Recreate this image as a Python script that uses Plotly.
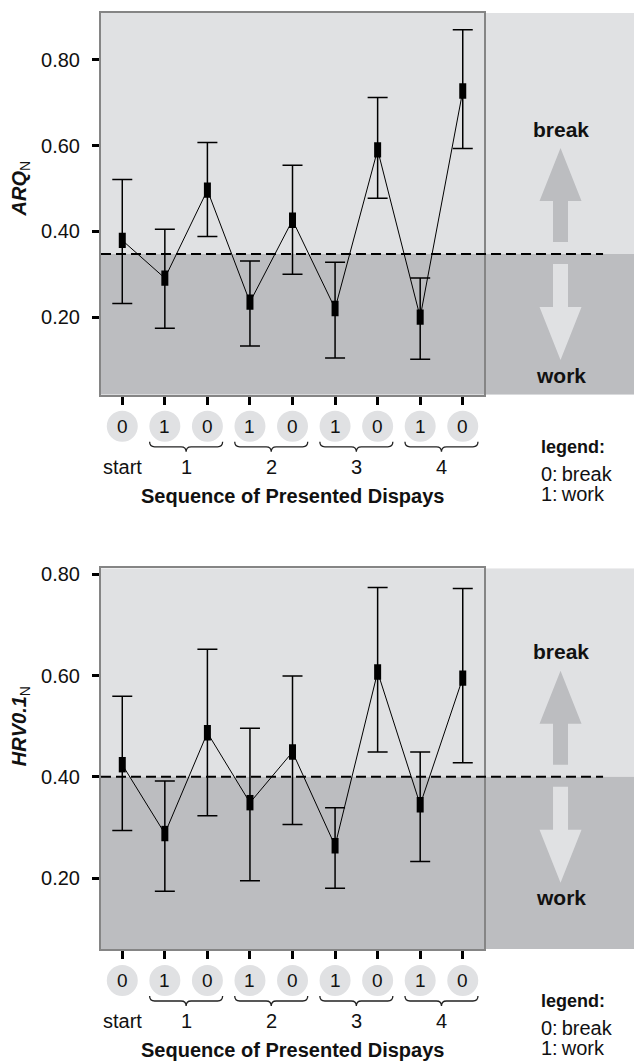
import plotly.graph_objects as go

# ---------------- data ----------------
categories = [0, 1, 2, 3, 4, 5, 6, 7, 8]
seq_codes = ["0", "1", "0", "1", "0", "1", "0", "1", "0"]
group_labels = ["start", "1", "2", "3", "4"]
group_pos = [0, 1.5, 3.5, 5.5, 7.5]
brace_pos = [1.5, 3.5, 5.5, 7.5]
y_ticks = [0.2, 0.4, 0.6, 0.8]
y_ticktext = ["0.20", "0.40", "0.60", "0.80"]

arq_mean = [0.379, 0.291, 0.496, 0.235, 0.426, 0.220, 0.590, 0.200, 0.727]
arq_upper = [0.521, 0.405, 0.607, 0.331, 0.554, 0.328, 0.712, 0.291, 0.870]
arq_lower = [0.232, 0.174, 0.388, 0.133, 0.300, 0.105, 0.477, 0.102, 0.593]
arq_threshold = 0.347
arq_range = [0.019, 0.909]

hrv_mean = [0.424, 0.288, 0.487, 0.349, 0.449, 0.264, 0.607, 0.345, 0.595]
hrv_upper = [0.559, 0.392, 0.652, 0.496, 0.599, 0.339, 0.774, 0.449, 0.772]
hrv_lower = [0.294, 0.174, 0.323, 0.195, 0.306, 0.180, 0.449, 0.233, 0.428]
hrv_threshold = 0.40
hrv_range = [0.060, 0.812]

# ---------------- style ----------------
FONT = "Liberation Sans, Arial, Helvetica, sans-serif"
LIGHT = "#e0e1e3"
DARK = "#bcbdc0"
BORDER = "#858585"
X_RANGE = [-0.5, 8.5]
X_DOMAIN = [0, 0.708]
ARROW_X = 0.8494
LEGEND_X = 0.8096

fig = go.Figure()

panels = [
    dict(mean=arq_mean, up=arq_upper, lo=arq_lower, thr=arq_threshold, rng=arq_range,
         xa="x", ya="y", xkey="xaxis", ykey="yaxis", domain=[0.5921, 1.0],
         title="<b><i>ARQ</i></b><sub>N</sub>"),
    dict(mean=hrv_mean, up=hrv_upper, lo=hrv_lower, thr=hrv_threshold, rng=hrv_range,
         xa="x2", ya="y2", xkey="xaxis2", ykey="yaxis2", domain=[0.0, 0.4068],
         title="<b><i>HRV0.1</i></b><sub>N</sub>"),
]

shapes = []
annotations = []


def note(**kw):
    kw.setdefault("showarrow", False)
    kw.setdefault("xanchor", "center")
    kw.setdefault("yanchor", "middle")
    annotations.append(kw)


for p in panels:
    plus = [u - m for u, m in zip(p["up"], p["mean"])]
    minus = [m - l for m, l in zip(p["mean"], p["lo"])]
    fig.add_trace(go.Scatter(
        x=categories, y=p["mean"], xaxis=p["xa"], yaxis=p["ya"],
        mode="lines+markers",
        line=dict(color="black", width=1),
        marker=dict(symbol="line-ns", size=11, color="black",
                    line=dict(color="black", width=7)),
        error_y=dict(type="data", symmetric=False, array=plus, arrayminus=minus,
                     color="black", thickness=1.5, width=10),
        showlegend=False, hoverinfo="skip",
    ))

    # axes
    fig.layout[p["xkey"]] = dict(
        domain=X_DOMAIN, range=X_RANGE, anchor=p["ya"],
        tickvals=categories, showticklabels=False,
        ticks="outside", ticklen=8, tickwidth=3, tickcolor="black",
        showline=True, linecolor=BORDER, linewidth=2, mirror=True,
        showgrid=False, zeroline=False,
    )
    fig.layout[p["ykey"]] = dict(
        domain=p["domain"], range=p["rng"], anchor=p["xa"],
        tickvals=y_ticks, ticktext=y_ticktext,
        ticks="outside", ticklen=7, tickwidth=3, tickcolor="black",
        ticklabelstandoff=8,
        tickfont=dict(family=FONT, size=20, color="#111"),
        showline=True, linecolor=BORDER, linewidth=2, mirror=True,
        showgrid=False, zeroline=False,
    )

    ydom = p["ya"] + " domain"
    # shaded regions
    shapes.append(dict(type="rect", xref="paper", yref=p["ya"], x0=0, x1=1,
                       y0=p["thr"], y1=p["rng"][1], fillcolor=LIGHT,
                       line=dict(width=0), layer="below"))
    shapes.append(dict(type="rect", xref="paper", yref=p["ya"], x0=0, x1=1,
                       y0=p["rng"][0], y1=p["thr"], fillcolor=DARK,
                       line=dict(width=0), layer="below"))
    # threshold dashed line
    shapes.append(dict(type="line", xref="paper", yref=p["ya"], x0=0, x1=0.928,
                       y0=p["thr"], y1=p["thr"],
                       line=dict(color="black", width=2, dash="10px,5px"),
                       layer="above"))
    # arrows
    shapes.append(dict(type="path", xref="paper", xsizemode="pixel", xanchor=ARROW_X,
                       yref=p["ya"], ysizemode="pixel", yanchor=p["thr"],
                       path="M -7.5,12 L 7.5,12 L 7.5,53 L 21,53 L 0,106 L -21,53 L -7.5,53 Z",
                       fillcolor=DARK, line=dict(width=0), layer="above"))
    shapes.append(dict(type="path", xref="paper", xsizemode="pixel", xanchor=ARROW_X,
                       yref=p["ya"], ysizemode="pixel", yanchor=p["thr"],
                       path="M -7.5,-10 L 7.5,-10 L 7.5,-53 L 21,-53 L 0,-106 L -21,-53 L -7.5,-53 Z",
                       fillcolor=LIGHT, line=dict(width=0), layer="above"))
    note(xref="paper", x=ARROW_X, yref=p["ya"], y=p["thr"], yshift=125,
         text="<b>break</b>", font=dict(family=FONT, size=21, color="#111"))
    note(xref="paper", x=ARROW_X, yref=p["ya"], y=p["thr"], yshift=-121,
         text="<b>work</b>", font=dict(family=FONT, size=21, color="#111"))

    # circles with codes
    for c, code in zip(categories, seq_codes):
        shapes.append(dict(type="circle", xref=p["xa"], xsizemode="pixel", xanchor=c,
                           x0=-15.5, x1=15.5, yref=ydom, ysizemode="pixel", yanchor=0,
                           y0=-47, y1=-16, fillcolor=LIGHT, line=dict(width=0)))
        note(xref=p["xa"], x=c, yref=ydom, y=0, yshift=-31.5, text=code,
             font=dict(family=FONT, size=19, color="#111"))
    # braces
    for b in brace_pos:
        shapes.append(dict(type="path", xref=p["xa"], xsizemode="pixel", xanchor=b,
                           yref=ydom, ysizemode="pixel", yanchor=0,
                           path=("M -36.5,-47 Q -36.5,-52 -31.5,-52 L -5,-52 "
                                 "Q 0,-52 0,-57 Q 0,-52 5,-52 L 31.5,-52 "
                                 "Q 36.5,-52 36.5,-47"),
                           line=dict(color="#222", width=1.3)))
    # group labels
    for g, lab in zip(group_pos, group_labels):
        note(xref=p["xa"], x=g, yref=ydom, y=0, yshift=-72, text=lab,
             font=dict(family=FONT, size=20, color="#111"))
    note(xref=p["xa"], x=4, yref=ydom, y=0, yshift=-101,
         text="<b>Sequence of Presented Dispays</b>",
         font=dict(family=FONT, size=20, color="#111"))
    # legend text
    note(xref="paper", x=LEGEND_X, xanchor="left", yref=ydom, y=0, yshift=-52,
         text="<b>legend:</b>", font=dict(family=FONT, size=18, color="#111"))
    note(xref="paper", x=LEGEND_X, xanchor="left", yref=ydom, y=0, yshift=-79,
         text="0:\u2009break", font=dict(family=FONT, size=20, color="#111"))
    note(xref="paper", x=LEGEND_X, xanchor="left", yref=ydom, y=0, yshift=-99,
         text="1:\u2009work", font=dict(family=FONT, size=20, color="#111"))
    # y-axis title
    note(xref="paper", x=0, xshift=-81, yref=p["ya"], y=0.5,
         text=p["title"], textangle=-90,
         font=dict(family=FONT, size=20, color="#111"))

fig.update_layout(
    width=634, height=1055,
    margin=dict(l=93, r=0, t=2, b=114),
    paper_bgcolor="white", plot_bgcolor="rgba(0,0,0,0)",
    shapes=shapes, annotations=annotations,
    font=dict(family=FONT, size=19, color="#111"),
)

fig.write_html("out.html")
